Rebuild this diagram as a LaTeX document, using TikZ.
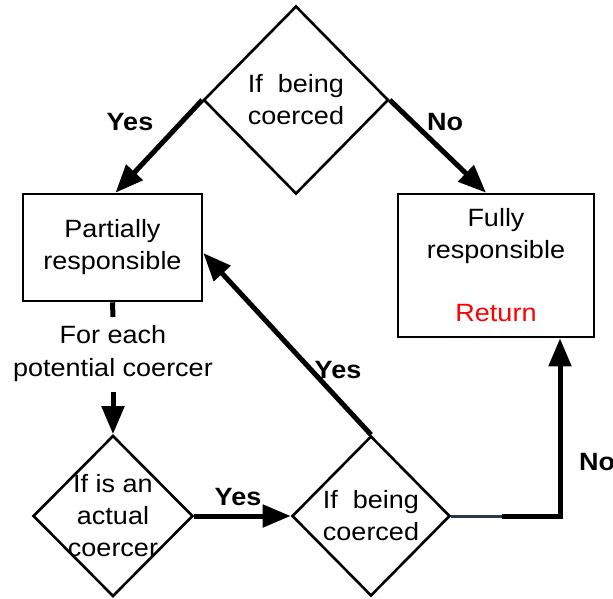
\documentclass[tikz,border=0pt]{standalone}
\usepackage{fontspec}
\setmainfont{Liberation Sans}[FakeStretch=1.08]
\usetikzlibrary{shapes.geometric,arrows.meta,calc}
\definecolor{darkslate}{RGB}{40,55,80}
\begin{document}
\begin{tikzpicture}[x=1pt,y=-1pt,
  every node/.style={font=\fontsize{25}{32}\selectfont},
  shapeline/.style={draw, line width=2.6pt},
  dia/.style={shapeline, diamond, inner sep=0pt, aspect=1},
  boxnode/.style={shapeline, rectangle, inner sep=0pt, align=center},
  txt/.style={align=center, inner sep=0pt},
  lbl/.style={font=\fontsize{25}{32}\selectfont\bfseries, inner sep=0pt},
  flow/.style={line width=5pt, -{Triangle[length=28pt,width=22pt]}},
  plainflow/.style={line width=5pt},
]
\useasboundingbox (0,0) rectangle (613,598);
% shapes
\node[dia, minimum width=185pt, minimum height=188pt] (top) at (296,100) {};
\node[txt] at (top) {If\ \ being\\coerced};
\node[boxnode, minimum width=179pt, minimum height=107pt] (pbox) at (112.5,247.5) {Partially\\responsible};
\node[boxnode, minimum width=196pt, minimum height=143pt] (fbox) at (496,265.5) {Fully\\responsible\\[31pt]\textcolor{red}{Return}};
\node[txt, font=\fontsize{25}{33}\selectfont] (fe) at (113,353.5) {For each\\potential coercer};
\node[dia, minimum width=160pt, minimum height=161pt] (sd) at (113,516) {};
\node[txt] at (sd) {If is an\\actual\\coercer};
\node[dia, minimum width=158pt, minimum height=160pt] (d2) at (371,516) {};
\node[txt] at (d2) {If\ \ being\\coerced};
% helper coordinates
\coordinate (stubend) at (113,317);
\coordinate (arrstart) at (113,392);
\coordinate (nmid) at (502,516);
\coordinate (ncorner) at (560,516);
% connectors
\draw[flow] (top.west) -- ([xshift=3pt]pbox.north);
\draw[flow] (top.east) -- ([xshift=-10pt]fbox.north);
\draw[plainflow] (pbox.south) -- (stubend);
\draw[flow] (arrstart) -- (sd.north);
\draw[flow] (sd.east) -- (d2.west);
\draw[flow] (d2.north) -- ([yshift=-5.5pt]pbox.east);
\draw[line width=3pt, darkslate] (d2.east) -- (nmid);
\draw[flow] (nmid) -- (ncorner) -- (ncorner |- fbox.south);
% labels
\node[lbl] at (130,122) {Yes};
\node[lbl] at (445,122) {No};
\node[lbl] at (338,370) {Yes};
\node[lbl] at (238,497) {Yes};
\node[lbl] at (597,462) {No};
\end{tikzpicture}
\end{document}
